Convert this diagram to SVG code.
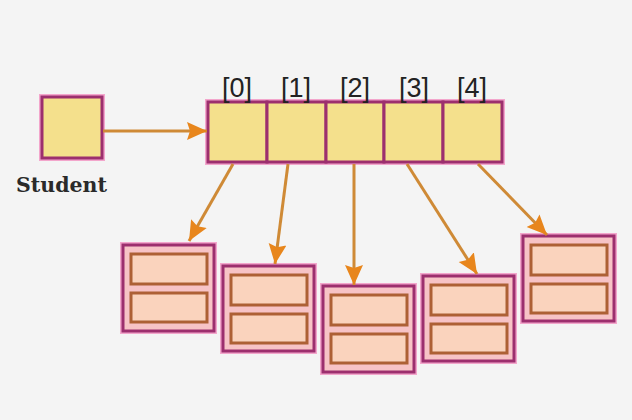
<svg xmlns="http://www.w3.org/2000/svg" width="632" height="420" viewBox="0 0 632 420">
  <defs>
    <marker id="ah" markerUnits="userSpaceOnUse" markerWidth="22" markerHeight="20" refX="20" refY="9" orient="auto">
      <path d="M0,0 L20,9 L0,18 L3,9 Z" fill="#e8861c"/>
    </marker>
    <style>
      .glow{fill:none;stroke:#f3a6cc;stroke-width:6}
      .cell{fill:#f4e08c;stroke:#9c2f6e;stroke-width:3}
      .rec{fill:#f7c3c6;stroke:#9c2f6e;stroke-width:3}
      .inner{fill:#fad3bd;stroke:#ad6035;stroke-width:3}
      .lbl{font-family:"Liberation Sans",Arial,sans-serif;font-size:27px;fill:#222;text-anchor:middle}
      .name{font-family:"DejaVu Serif","Liberation Serif",serif;font-weight:bold;font-size:20.5px;fill:#2a2a2a}
      .conn{stroke:#cf8a36;stroke-width:3;fill:none;marker-end:url(#ah)}
    </style>
  </defs>
  <rect width="632" height="420" fill="#f4f4f4"/>

  <g id="student">
    <rect class="glow" x="42" y="97" width="60" height="61"/>
    <rect class="cell" x="42" y="97" width="60" height="61"/>
    <text class="name" x="16" y="192">Student</text>
  </g>

  <g id="array">
    <rect class="glow" x="208" y="102" width="294" height="60"/>
    <rect class="cell" x="208" y="102" width="59" height="60"/>
    <rect class="cell" x="267" y="102" width="59" height="60"/>
    <rect class="cell" x="326" y="102" width="58" height="60"/>
    <rect class="cell" x="384" y="102" width="59" height="60"/>
    <rect class="cell" x="443" y="102" width="59" height="60"/>
    <text class="lbl" x="237" y="97">[0]</text>
    <text class="lbl" x="296" y="97">[1]</text>
    <text class="lbl" x="355" y="97">[2]</text>
    <text class="lbl" x="414" y="97">[3]</text>
    <text class="lbl" x="472" y="97">[4]</text>
  </g>

  <g id="obj0">
    <rect class="glow" x="123" y="245" width="91" height="86"/>
    <rect class="rec" x="123" y="245" width="91" height="86"/>
    <rect class="inner" x="131" y="254" width="76" height="30"/>
    <rect class="inner" x="131" y="293" width="76" height="29"/>
  </g>
  <g id="obj1">
    <rect class="glow" x="223" y="266" width="91" height="85"/>
    <rect class="rec" x="223" y="266" width="91" height="85"/>
    <rect class="inner" x="231" y="275" width="76" height="30"/>
    <rect class="inner" x="231" y="314" width="76" height="29"/>
  </g>
  <g id="obj2">
    <rect class="glow" x="323" y="286" width="91" height="86"/>
    <rect class="rec" x="323" y="286" width="91" height="86"/>
    <rect class="inner" x="331" y="295" width="76" height="30"/>
    <rect class="inner" x="331" y="334" width="76" height="29"/>
  </g>
  <g id="obj3">
    <rect class="glow" x="423" y="276" width="91" height="85"/>
    <rect class="rec" x="423" y="276" width="91" height="85"/>
    <rect class="inner" x="431" y="285" width="76" height="30"/>
    <rect class="inner" x="431" y="324" width="76" height="29"/>
  </g>
  <g id="obj4">
    <rect class="glow" x="523" y="236" width="91" height="85"/>
    <rect class="rec" x="523" y="236" width="91" height="85"/>
    <rect class="inner" x="531" y="245" width="76" height="30"/>
    <rect class="inner" x="531" y="284" width="76" height="29"/>
  </g>

  <g id="connectors">
    <path class="conn" d="M103,131 L207,131"/>
    <path class="conn" d="M233,164 L189,241"/>
    <path class="conn" d="M288,164 L275,264"/>
    <path class="conn" d="M354,164 L354,285"/>
    <path class="conn" d="M407,164 L477,274"/>
    <path class="conn" d="M478,164 L547,235"/>
  </g>
</svg>
